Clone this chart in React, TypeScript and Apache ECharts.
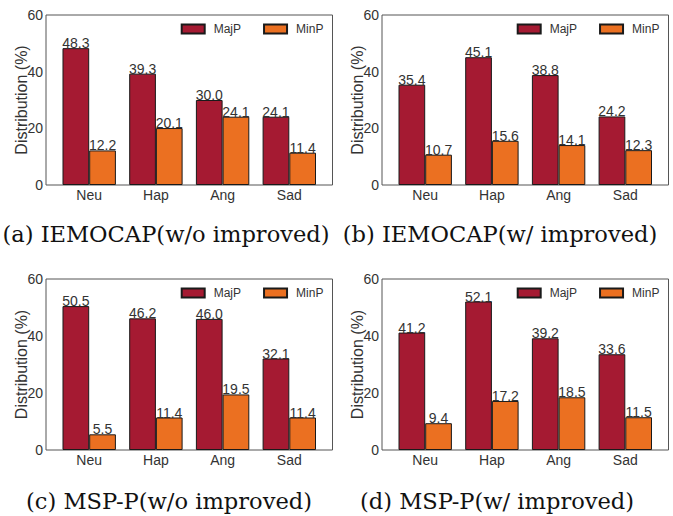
import React, { useEffect, useRef } from "react";
import * as echarts from "echarts";

const categories = ["Neu", "Hap", "Ang", "Sad"];
const seriesNames = ["MajP", "MinP"];
const panelA_MajP = [48.3, 39.3, 30.0, 24.1];
const panelA_MinP = [12.2, 20.1, 24.1, 11.4];
const panelB_MajP = [35.4, 45.1, 38.8, 24.2];
const panelB_MinP = [10.7, 15.6, 14.1, 12.3];
const panelC_MajP = [50.5, 46.2, 46.0, 32.1];
const panelC_MinP = [5.5, 11.4, 19.5, 11.4];
const panelD_MajP = [41.2, 52.1, 39.2, 33.6];
const panelD_MinP = [9.4, 17.2, 18.5, 11.5];
const captions = [
  "(a) IEMOCAP(w/o improved)",
  "(b) IEMOCAP(w/ improved)",
  "(c) MSP-P(w/o improved)",
  "(d) MSP-P(w/ improved)",
];
const yTicks = { min: 0, max: 60, interval: 20 };
const yAxisName = "Distribution (%)";

const panels = [
  { maj: panelA_MajP, min: panelA_MinP, left: 46, top: 15, height: 170, capX: 166, capY: 235 },
  { maj: panelB_MajP, min: panelB_MinP, left: 382, top: 15, height: 170, capX: 500, capY: 235 },
  { maj: panelC_MajP, min: panelC_MinP, left: 46, top: 279, height: 171, capX: 169, capY: 502 },
  { maj: panelD_MajP, min: panelD_MinP, left: 382, top: 279, height: 171, capX: 497, capY: 502 },
];

const RED = "#A51A32";
const ORANGE = "#EB7021";
const SANS = "'Liberation Sans', Arial, sans-serif";

export default function App() {
  const ref = useRef<HTMLDivElement>(null);
  useEffect(() => {
    if (!ref.current) return;
    const chart = echarts.init(ref.current, undefined, { renderer: "svg" });
    const frameW = 286.5;
    const pad = 9.85;
    const grid: any[] = [];
    const xAxis: any[] = [];
    const yAxis: any[] = [];
    const series: any[] = [];
    const legend: any[] = [];
    const graphic: any[] = [];
    panels.forEach((p, i) => {
      grid.push({
        left: p.left, top: p.top, width: frameW, height: p.height,
        show: true, borderColor: "#555", borderWidth: 1, backgroundColor: "transparent",
      });
      xAxis.push({ gridIndex: 2 * i, type: "value", show: false });
      yAxis.push({ gridIndex: 2 * i, type: "value", show: false });
      grid.push({ left: p.left + pad, top: p.top, width: frameW - 2 * pad, height: p.height });
      xAxis.push({
        gridIndex: 2 * i + 1, type: "category", data: categories,
        axisLine: { show: false }, axisTick: { show: false },
        axisLabel: { color: "#333", fontSize: 14, fontFamily: SANS, margin: 3 },
      });
      yAxis.push({
        gridIndex: 2 * i + 1, type: "value", min: yTicks.min, max: yTicks.max, interval: yTicks.interval,
        offset: pad,
        axisLine: { show: false }, axisTick: { show: false }, splitLine: { show: false },
        axisLabel: { color: "#333", fontSize: 14, fontFamily: SANS, margin: 3 },
        name: yAxisName, nameLocation: "middle", nameGap: 17, nameMoveOverlap: false,
        nameTextStyle: { color: "#333", fontSize: 16, fontFamily: SANS },
      });
      [p.maj, p.min].forEach((vals, k) => {
        series.push({
          type: "bar", name: seriesNames[k], xAxisIndex: 2 * i + 1, yAxisIndex: 2 * i + 1,
          data: vals, barWidth: 26.7, barGap: "0%",
          itemStyle: { color: k === 0 ? RED : ORANGE, borderColor: "#1a1a1a", borderWidth: 1 },
          label: {
            show: true, position: "top", distance: -2, color: "#333", fontSize: 14, fontFamily: SANS,
            formatter: (d: any) => Number(d.value).toFixed(1),
          },
        });
      });
      legend.push({
        data: seriesNames, left: p.left + 134.7, top: p.top + 8, padding: 0,
        itemWidth: 23, itemHeight: 9, itemGap: 22,
        textStyle: { color: "#333", fontSize: 12, fontFamily: SANS, padding: [0, 0, 0, 4] },
        icon: "rect",
      });
      graphic.push({
        type: "text", x: p.capX, y: p.capY, scaleX: 1.05,
        style: {
          text: captions[i], fill: "#111", font: "21.5px 'DejaVu Serif', serif",
          textAlign: "center", textVerticalAlign: "middle",
        },
      });
    });
    chart.setOption({
      animation: false,
      backgroundColor: "#fff",
      grid, xAxis, yAxis, series, legend, graphic,
    });
    return () => chart.dispose();
  }, []);
  return (
    <div
      ref={ref}
      style={{ position: "absolute", left: 0, top: 0, width: 673, height: 516 }}
    />
  );
}
